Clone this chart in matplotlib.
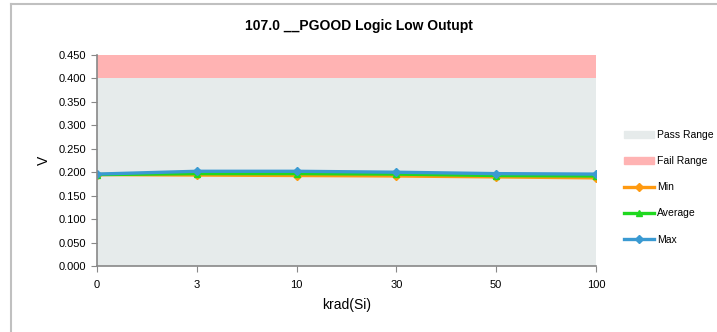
import matplotlib.pyplot as plt
from matplotlib.patches import Patch
from matplotlib.lines import Line2D
import numpy as np

plt.rcParams['font.family'] = ['Liberation Sans Narrow', 'Liberation Sans', 'DejaVu Sans']

# data
doses = ['0', '3', '10', '30', '50', '100']
v_min = [0.195, 0.194, 0.193, 0.192, 0.190, 0.188]
v_avg = [0.195, 0.197, 0.197, 0.196, 0.193, 0.192]
v_max = [0.196, 0.202, 0.202, 0.200, 0.197, 0.196]
pass_limit = 0.400
fail_limit = 0.450

fig = plt.figure(figsize=(7.17, 3.32), dpi=100)
ax = fig.add_axes([97 / 717, 1 - 266 / 332, (596 - 97) / 717, (266 - 55) / 332])

x = np.arange(len(doses))
ax.fill_between(x, 0, pass_limit, color='#e6ebeb', lw=0)
ax.fill_between(x, pass_limit, fail_limit, color='#ffb3b3', lw=0)

ax.plot(x, v_min, color='#ff9a10', lw=2.4, marker='D', ms=4)
ax.plot(x, v_avg, color='#1fd81f', lw=2.4, marker='^', ms=5)
ax.plot(x, v_max, color='#3a9ad2', lw=2.4, marker='D', ms=4)

ax.set_xlim(0, len(doses) - 1)
ax.set_ylim(0, 0.45)
ax.set_xticks(x)
ax.set_xticklabels(doses)
ax.set_yticks(np.arange(0, 0.451, 0.05))
ax.set_yticklabels(['%.3f' % v for v in np.arange(0, 0.451, 0.05)])
ax.tick_params(labelsize=8, length=4, color='#888888', direction='out')
ax.tick_params(axis='x', pad=6)

for s in ['top', 'right']:
    ax.spines[s].set_visible(False)
for s in ['left', 'bottom']:
    ax.spines[s].set_color('#888888')
    ax.spines[s].set_linewidth(1.2)

ax.set_xlabel('krad(Si)', fontsize=10, labelpad=6)
ax.set_ylabel('V', fontsize=10, labelpad=6)
fig.text(0.5, 1 - 26 / 332, '107.0 __PGOOD Logic Low Outupt', ha='center', va='center',
         fontsize=10, fontweight='bold')

handles = [
    Patch(color='#e6ebeb', label='Pass Range'),
    Patch(color='#ffb3b3', label='Fail Range'),
    Line2D([], [], color='#ff9a10', lw=2.4, marker='D', ms=4, label='Min'),
    Line2D([], [], color='#1fd81f', lw=2.4, marker='^', ms=5, label='Average'),
    Line2D([], [], color='#3a9ad2', lw=2.4, marker='D', ms=4, label='Max'),
]
fig.legend(handles=handles, loc='upper left', bbox_to_anchor=(624 / 717, 1 - 130 / 332),
           frameon=False, fontsize=7.5, handlelength=2.9, handletextpad=0.3,
           labelspacing=1.55, borderaxespad=0, borderpad=0)

# outer chart border
fig.add_artist(Line2D([11 / 717, 1], [1 - 4 / 332, 1 - 4 / 332], color='#c0c0c0', lw=1.5))
fig.add_artist(Line2D([11 / 717, 11 / 717], [0, 1 - 4 / 332], color='#c0c0c0', lw=1.5))

fig.savefig('out.png', dpi=100)
